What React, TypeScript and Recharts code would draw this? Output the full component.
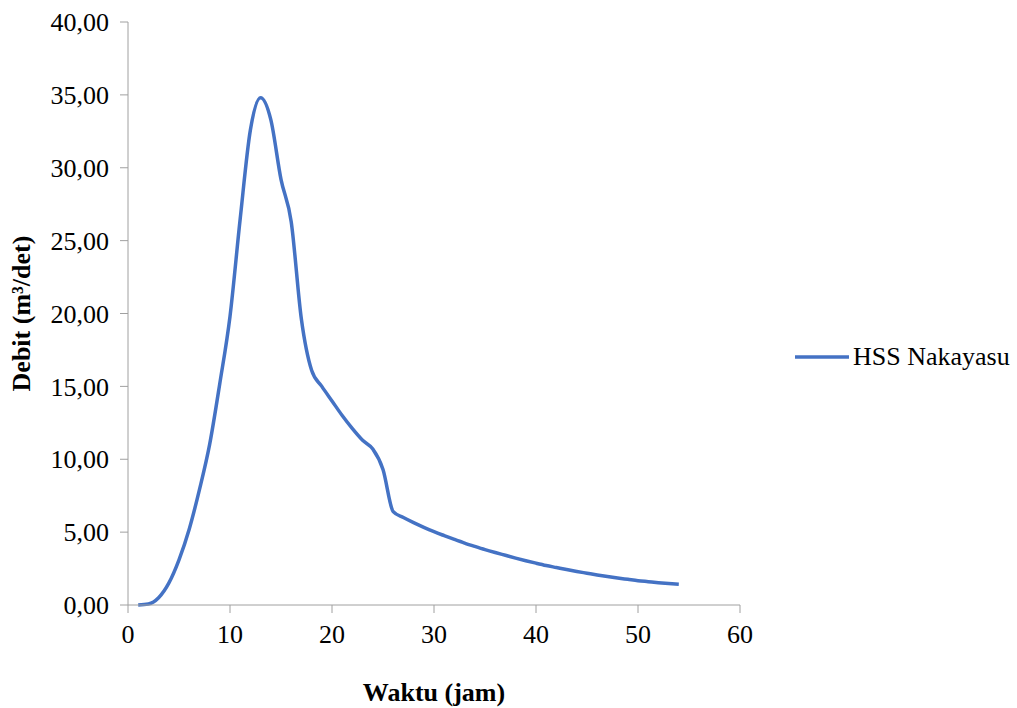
import { LineChart, Line, XAxis, YAxis, Label } from 'recharts';

const jam = [1, 2, 3, 4, 5, 6, 7, 8, 9, 10, 11, 12, 13, 14, 15, 16, 17, 18, 19, 20, 21, 22, 23, 24, 25, 26, 27, 28, 29, 30, 31, 32, 33, 34, 35, 36, 37, 38, 39, 40, 41, 42, 43, 44, 45, 46, 47, 48, 49, 50, 51, 52, 53, 54];
const debit = [0, 0.07, 0.5, 1.5, 3.1, 5.2, 7.9, 11.0, 15.2, 19.8, 26.5, 32.6, 34.8, 33.3, 29.2, 26.3, 19.6, 16.1, 15.0, 14.0, 13.0, 12.1, 11.3, 10.7, 9.3, 6.4, 6.0, 5.65, 5.33, 5.03, 4.76, 4.5, 4.25, 4.02, 3.8, 3.6, 3.41, 3.22, 3.04, 2.87, 2.71, 2.57, 2.43, 2.3, 2.18, 2.06, 1.95, 1.85, 1.76, 1.67, 1.6, 1.53, 1.47, 1.42];
const xTicks = [0, 10, 20, 30, 40, 50, 60];
const yTicks = [0, 5, 10, 15, 20, 25, 30, 35, 40];

const data = jam.map((t, i) => ({ jam: t, debit: debit[i] }));

const FONT = '"Liberation Serif", "Times New Roman", serif';
const AXIS = '#a0a0a0';
const SIZE = 26;

export default function App() {
  return (
    <div style={{ position: 'absolute', left: 0, top: 0, width: 1017, height: 708, background: '#fff' }}>
      <LineChart
        width={1017}
        height={708}
        data={data}
        margin={{ top: 22, right: 277, bottom: 0, left: 0 }}
      >
        <XAxis
          dataKey="jam"
          type="number"
          domain={[0, 60]}
          ticks={xTicks}
          height={103}
          stroke={AXIS}
          tickSize={8}
          tickMargin={12}
          tick={{ fill: '#000', fontSize: SIZE, fontFamily: FONT }}
        >
          <Label
            value="Waktu (jam)"
            position="insideBottom"
            offset={7}
            style={{ fill: '#000', fontSize: SIZE, fontWeight: 'bold', fontFamily: FONT }}
          />
        </XAxis>
        <YAxis
          type="number"
          domain={[0, 40]}
          ticks={yTicks}
          width={128}
          stroke={AXIS}
          tickSize={8}
          tickMargin={11}
          tickFormatter={(v: number) => v.toFixed(2).replace('.', ',')}
          tick={{ fill: '#000', fontSize: SIZE, fontFamily: FONT }}
        >
          <Label
            value="Debit (m³/det)"
            angle={-90}
            position="insideLeft"
            offset={21}
            style={{ textAnchor: 'middle', fill: '#000', fontSize: SIZE, fontWeight: 'bold', fontFamily: FONT }}
          />
        </YAxis>
        <Line
          type="monotone"
          dataKey="debit"
          stroke="#4472C4"
          strokeWidth={3.5}
          dot={false}
          isAnimationActive={false}
        />
      </LineChart>
      <div
        style={{
          position: 'absolute',
          left: 794,
          top: 340,
          height: 34,
          display: 'flex',
          alignItems: 'center',
          fontFamily: FONT,
          fontSize: SIZE,
          color: '#000',
          whiteSpace: 'nowrap',
        }}
      >
        <svg width={56} height={6} style={{ marginRight: 3 }}>
          <line x1={1} y1={3} x2={55} y2={3} stroke="#4472C4" strokeWidth={3.5} />
        </svg>
        <span>HSS Nakayasu</span>
      </div>
    </div>
  );
}
